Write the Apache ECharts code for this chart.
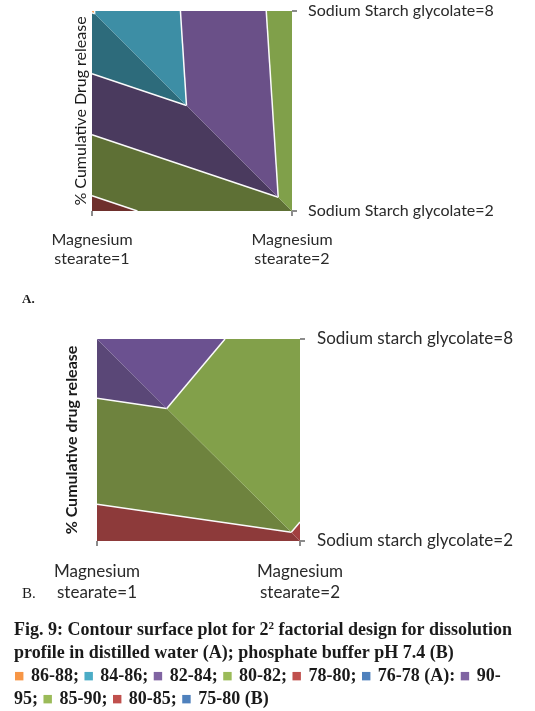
<!DOCTYPE html>
<html><head><meta charset="utf-8">
<script src="https://cdn.jsdelivr.net/npm/echarts@6/dist/echarts.min.js"></script>
<style>html,body{margin:0;padding:0;background:#fff}#c{width:535px;height:711px}</style>
</head><body><div id="c"></div>
<script>
// ---- data ----
const msLevels = [1, 2];            // Magnesium stearate
const ssgLevels = [2, 8];           // Sodium starch glycolate
const msLabels = ['Magnesium\nstearate=1', 'Magnesium\nstearate=2'];
const ssgLabelsA = ['Sodium Starch glycolate=2', 'Sodium Starch glycolate=8'];
const ssgLabelsB = ['Sodium starch glycolate=2', 'Sodium starch glycolate=8'];
// % cumulative drug release at the design corners (index = Magnesium stearate level)
const releaseA_ssg2 = [79.5, 81.7];
const releaseA_ssg8 = [86.06, 81.4];
const releaseB_ssg2 = [83.26, 84.65];
const releaseB_ssg8 = [92.8, 88.36];
// contour band limits
const bandsA = [76, 78, 80, 82, 84, 86, 88];
const bandsB = [75, 80, 85, 90, 95];

// ---- styles ----
const shadeA = { // [lower-left facet, upper-right facet] per band
  dark:  ['#3b5f8c', '#6e2f2c', '#5e7035', '#4a3a5e', '#2d6b7b', '#c8742f'],
  light: ['#4f7fb4', '#94403d', '#80a04a', '#6a5088', '#3d8ea5', '#f79646']
};
const shadeB = {
  dark:  ['#3b5f8c', '#8d3a3a', '#6e833e', '#5a4777'],
  light: ['#4f7fb4', '#a24040', '#82a04a', '#6b5190']
};
const LINE_COLOR = '#fbfbfb';
const FONT = 'Lato';

// facets of the surface: lower-left (TL, BL, BR) and upper-right (TL, TR, BR)
const facets = [
  [[0, 1], [0, 0], [1, 0]],
  [[0, 1], [1, 1], [1, 0]]
];

function clip(poly, level, keepAbove) {
  const out = [];
  const n = poly.length;
  for (let i = 0; i < n; i++) {
    const a = poly[i], b = poly[(i + 1) % n];
    const ain = keepAbove ? a.v >= level : a.v <= level;
    const bin = keepAbove ? b.v >= level : b.v <= level;
    if (ain) out.push(a);
    if (ain !== bin) {
      const t = (level - a.v) / (b.v - a.v);
      out.push({ x: a.x + t * (b.x - a.x), y: a.y + t * (b.y - a.y), v: level });
    }
  }
  return out;
}
function facetVerts(rows, fi) {
  return facets[fi].map(([i, j]) => ({ x: msLevels[i], y: ssgLevels[j], v: rows[j][i] }));
}
function contourSegments(verts, bands) {
  const segs = [];
  for (let k = 1; k < bands.length - 1; k++) {
    const L = bands[k];
    const pts = [];
    for (let e = 0; e < 3; e++) {
      const a = verts[e], b = verts[(e + 1) % 3];
      if ((a.v - L) * (b.v - L) < 0) {
        const t = (L - a.v) / (b.v - a.v);
        pts.push([a.x + t * (b.x - a.x), a.y + t * (b.y - a.y)]);
      }
    }
    if (pts.length === 2) segs.push(pts);
  }
  return segs;
}

function makeRender(rows, bands, shade) {
  return function (params, api) {
    const fi = params.dataIndex;
    const verts = facetVerts(rows, fi);
    const pal = fi === 0 ? shade.dark : shade.light;
    const children = [];
    for (let k = 0; k < bands.length - 1; k++) {
      let p = clip(verts, bands[k], true);
      if (p.length >= 3) p = clip(p, bands[k + 1], false);
      if (p.length >= 3) {
        children.push({
          type: 'polygon',
          shape: { points: p.map(q => api.coord([q.x, q.y])) },
          style: { fill: pal[k] }
        });
      }
    }
    contourSegments(verts, bands).forEach(seg => {
      const p1 = api.coord(seg[0]), p2 = api.coord(seg[1]);
      children.push({
        type: 'line',
        shape: { x1: p1[0], y1: p1[1], x2: p2[0], y2: p2[1] },
        style: { stroke: LINE_COLOR, lineWidth: 1.5 }
      });
    });
    return { type: 'group', children };
  };
}

function xAxisCfg(gridIndex, fs, lh, margin) {
  return {
    gridIndex, type: 'value', min: msLevels[0], max: msLevels[1],
    axisLine: { show: false }, splitLine: { show: false },
    axisTick: { show: true, length: 5, lineStyle: { color: '#8c8c8c', width: 2 }, customValues: msLevels },
    axisLabel: {
      customValues: msLevels, margin, fontFamily: FONT, fontSize: fs, lineHeight: lh, color: '#2a2a2a',
      formatter: v => msLabels[msLevels.indexOf(v)]
    }
  };
}
function yAxisCfg(gridIndex, labels, fs, margin) {
  return {
    gridIndex, type: 'value', position: 'right', min: ssgLevels[0], max: ssgLevels[1],
    axisLine: { show: false }, splitLine: { show: false },
    axisTick: { show: true, length: 5, lineStyle: { color: '#8c8c8c', width: 2 }, customValues: ssgLevels },
    axisLabel: {
      customValues: ssgLevels, margin, fontFamily: FONT, fontSize: fs, color: '#2a2a2a',
      formatter: v => labels[ssgLevels.indexOf(v)]
    }
  };
}
function yNameCfg(gridIndex, name, gap, weight, fs) {
  return {
    gridIndex, type: 'value', position: 'left', min: ssgLevels[0], max: ssgLevels[1],
    axisLine: { show: false }, axisTick: { show: false }, axisLabel: { show: false }, splitLine: { show: false },
    name, nameLocation: 'middle', nameGap: gap, nameRotate: 90,
    nameTextStyle: { fontFamily: FONT, fontSize: fs, color: '#1a1a1a', fontWeight: weight }
  };
}

const serifB = { fontFamily: 'Liberation Serif', fontWeight: 'bold', fontSize: 18, color: '#1a1a1a' };
const sq = c => ({ fontFamily: 'DejaVu Sans', fontSize: 11, color: c, padding: [0, 2, 0, 0] });
const capRich = {
  b: serifB,
  sup: Object.assign({}, serifB, { fontSize: 11, verticalAlign: 'top', padding: [0, 0, 8, 0] }),
  o: sq('#f79646'), t: sq('#4bacc6'), p: sq('#8064a2'), g: sq('#9bbb59'), r: sq('#c0504d'), u: sq('#4f81bd')
};
function capTitle(top, text) {
  return { left: 14, top, padding: 0, text, textStyle: { rich: capRich, fontFamily: 'Liberation Serif', fontWeight: 'bold', fontSize: 18 } };
}

const rowsA = [releaseA_ssg2, releaseA_ssg8];
const rowsB = [releaseB_ssg2, releaseB_ssg8];

const option = {
  animation: false,
  grid: [
    { left: 92, top: 11, width: 200, height: 200 },
    { left: 97, top: 339, width: 203, height: 202 }
  ],
  xAxis: [xAxisCfg(0, 16, 19, 19), xAxisCfg(1, 17, 21, 20)],
  yAxis: [
    yAxisCfg(0, ssgLabelsA, 16, 16),
    yNameCfg(0, '% Cumulative Drug release', 3, 'normal', 16),
    yAxisCfg(1, ssgLabelsB, 17, 17),
    yNameCfg(1, '% Cumulative drug release', 17, 'bold', 16)
  ],
  title: [
    { left: 22, top: 293, padding: 0, text: 'A.', textStyle: { fontFamily: 'Liberation Serif', fontWeight: 'bold', fontSize: 13, color: '#1a1a1a' } },
    { left: 22, top: 587, padding: 0, text: 'B.', textStyle: { fontFamily: 'Liberation Serif', fontWeight: 'normal', fontSize: 15, color: '#1a1a1a' } },
    capTitle(621, '{b|Fig. 9: Contour surface plot for 2}{sup|2}{b| factorial design for dissolution}'),
    capTitle(644, '{b|profile in distilled water (A); phosphate buffer pH 7.4 (B)}'),
    capTitle(667, '{o|■}{b| 86-88; }{t|■}{b| 84-86; }{p|■}{b| 82-84; }{g|■}{b| 80-82; }{r|■}{b| 78-80; }{u|■}{b| 76-78 (A): }{p|■}{b| 90-}'),
    capTitle(690, '{b|95; }{g|■}{b| 85-90; }{r|■}{b| 80-85; }{u|■}{b| 75-80 (B)}')
  ],
  series: [
    {
      type: 'custom', xAxisIndex: 0, yAxisIndex: 0,
      data: facets.map((f, i) => i),
      renderItem: makeRender(rowsA, bandsA, shadeA)
    },
    {
      type: 'custom', xAxisIndex: 1, yAxisIndex: 2,
      data: facets.map((f, i) => i),
      renderItem: makeRender(rowsB, bandsB, shadeB)
    }
  ]
};
const chart = echarts.init(document.getElementById('c'));
chart.setOption(option);
</script>
</body></html>
